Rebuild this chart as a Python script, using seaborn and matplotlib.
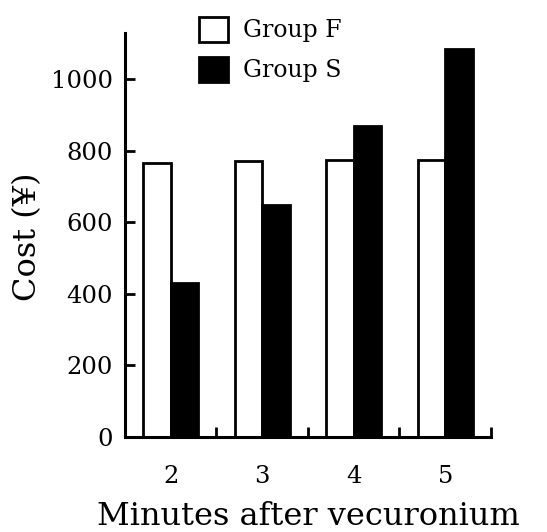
import matplotlib
matplotlib.use("Agg")
import matplotlib.pyplot as plt
import seaborn as sns
import pandas as pd
from matplotlib.patches import Patch

minutes = ["2", "3", "4", "5"]
group_f = [765, 770, 773, 774]
group_s = [430, 648, 869, 1084]
groups = ["Group F", "Group S"]
y_ticks = [0, 200, 400, 600, 800, 1000]

df = pd.DataFrame({
    "minute": minutes * 2,
    "cost": group_f + group_s,
    "group": [groups[0]] * 4 + [groups[1]] * 4,
})

sns.set_style("ticks")
plt.rcParams["font.family"] = ["DejaVu Serif"]
plt.rcParams["text.color"] = "black"
plt.rcParams["axes.labelcolor"] = "black"
plt.rcParams["xtick.color"] = "black"
plt.rcParams["ytick.color"] = "black"
plt.rcParams["axes.edgecolor"] = "black"

fig = plt.figure(figsize=(5.47, 5.32), dpi=100)
ax = fig.add_axes([0.2285, 0.1786, 0.669, 0.759])

sns.barplot(data=df, x="minute", y="cost", hue="group", order=minutes,
            hue_order=groups, palette={"Group F": "white", "Group S": "black"},
            edgecolor="black", linewidth=2, width=0.6, ax=ax, legend=False)

ax.set_xlim(-0.5, 3.5)
ax.set_ylim(0, 1128)
ax.set_yticks(y_ticks)
ax.set_yticklabels([str(v) for v in y_ticks], fontsize=17.5)
ax.tick_params(axis="y", direction="in", length=7, width=2, pad=8.5)
ax.set_xticks(range(len(minutes)))
ax.set_xticklabels(minutes, fontsize=17.5)
ax.tick_params(axis="x", which="major", length=0, pad=20)
ax.set_xticks([0.5, 1.5, 2.5, 3.5], minor=True)
ax.tick_params(axis="x", which="minor", direction="in", length=7, width=2)

for side in ["top", "right"]:
    ax.spines[side].set_visible(False)
for side in ["left", "bottom"]:
    ax.spines[side].set_linewidth(2.2)

ax.set_xlabel("Minutes after vecuronium", fontsize=23)
ax.xaxis.set_label_coords(0.5, -0.158)
ax.set_ylabel("Cost (¥)", fontsize=23)
ax.yaxis.set_label_coords(-0.224, 0.495)

handles = [Patch(facecolor="white", edgecolor="black", linewidth=2, label=groups[0]),
           Patch(facecolor="black", edgecolor="black", linewidth=2, label=groups[1])]
ax.legend(handles=handles, loc="upper left", bbox_to_anchor=(0.364, 0.968),
          bbox_transform=fig.transFigure, borderpad=0, borderaxespad=0,
          frameon=False, fontsize=17, handlelength=1.23, handleheight=1.25,
          handletextpad=0.63, labelspacing=0.6)

fig.savefig("out.png", dpi=100)
